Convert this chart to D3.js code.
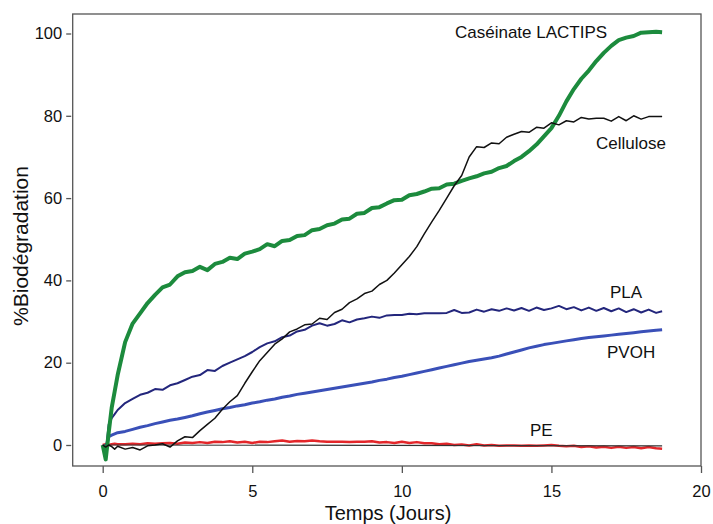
<!DOCTYPE html>
<html>
<head>
<meta charset="utf-8">
<script src="https://cdn.jsdelivr.net/npm/d3@7"></script>
<style>
    body { margin: 0; background: #fff; }
    text { font-family: "Liberation Sans", Arial, sans-serif; fill: #111; }
</style>
</head>
<body>
<script>
var WIDTH = 713,
    HEIGHT = 524;

// sampling days shared by every series
var days = [0, 0.1, 0.2, 0.3, 0.4, 0.5,
    0.75, 1, 1.25, 1.5, 1.75, 2, 2.25, 2.5, 2.75, 3, 3.25, 3.5, 3.75, 4,
    4.25, 4.5, 4.75, 5, 5.25, 5.5, 5.75, 6, 6.25, 6.5, 6.75, 7, 7.25, 7.5, 7.75, 8,
    8.25, 8.5, 8.75, 9, 9.25, 9.5, 9.75, 10, 10.25, 10.5, 10.75, 11, 11.25, 11.5, 11.75, 12,
    12.25, 12.5, 12.75, 13, 13.25, 13.5, 13.75, 14, 14.25, 14.5, 14.75, 15, 15.25, 15.5, 15.75, 16,
    16.25, 16.5, 16.75, 17, 17.25, 17.5, 17.75, 18, 18.25, 18.5, 18.7];

var caseinate = [0, -3.5, 3, 9, 13, 17,
    25, 29.5, 32, 34.5, 36.5, 38.3, 39, 41, 42, 42.3, 43.3, 42.5, 44, 44.5,
    45.5, 45.2, 46.5, 47, 47.6, 48.8, 48.3, 49.6, 49.8, 50.8, 51, 52.2, 52.5, 53.4, 53.8, 54.8,
    55, 56.2, 56.4, 57.6, 57.8, 58.7, 59.5, 59.6, 60.7, 61, 61.6, 62.3, 62.4, 63.3, 63.5, 64.2,
    64.8, 65.3, 66, 66.4, 67.3, 67.8, 69, 70, 71.4, 73, 75, 77, 80, 83.5, 86.5, 89,
    91, 93.3, 95.3, 97, 98.4, 99, 99.4, 100.2, 100.3, 100.4, 100.3];

var cellulose = [0, -0.5, 0, -0.4, -1, -0.3,
    -1, -0.6, -1.2, -0.2, 0, 0.3, -0.5, 1, 2, 1.8, 3.5, 5, 6.5, 8.7,
    10.5, 12, 15, 17.8, 20.5, 22.5, 24.5, 25.8, 27.5, 28.2, 29.2, 29.4, 30.8, 30.5, 32.2, 33,
    34.6, 35.5, 36.8, 37.4, 39, 40, 41.8, 43.8, 45.8, 48.2, 51.3, 54.2, 57, 60, 63, 65.5,
    70, 72.5, 72.3, 73.4, 73.2, 74.8, 75.5, 76.2, 76, 77.2, 77, 78.3, 77.8, 78.8, 78.5, 79.6,
    79.2, 79.4, 79.4, 78.7, 79.8, 78.8, 80, 79.2, 79.8, 79.8, 79.8];

var pla = [0, -2, 5, 6.5, 7.5, 8.5,
    10.2, 11.2, 12.2, 12.7, 13.6, 13.4, 14.5, 15, 15.8, 16.6, 17, 18.2, 18, 19.2,
    20, 20.8, 21.6, 22.6, 23.8, 24.7, 25.2, 26.2, 26.6, 27.6, 28, 29, 29.6, 29, 29.4, 30.3,
    29.8, 30.5, 30.8, 31.2, 30.9, 31.5, 31.6, 31.6, 31.9, 31.8, 32, 32, 32, 32.1, 32.8, 32.1,
    32.2, 32.9, 32.4, 33, 32.6, 33.2, 32.7, 33.3, 32.6, 33.4, 32.8, 33.2, 33.8, 33, 33.5, 32.7,
    33.4, 32.6, 33.3, 32.5, 33.2, 32.3, 33, 32.2, 32.9, 32.1, 32.5];

var pvoh = [0, -1, 2, 2.4, 2.7, 3,
    3.3, 3.8, 4.3, 4.7, 5.2, 5.6, 6, 6.3, 6.7, 7.1, 7.6, 8, 8.4, 8.8,
    9.1, 9.5, 9.8, 10.2, 10.5, 10.9, 11.2, 11.6, 11.9, 12.3, 12.6, 12.9, 13.2, 13.5, 13.8, 14.1,
    14.4, 14.7, 15, 15.3, 15.7, 16, 16.4, 16.7, 17.1, 17.5, 17.9, 18.3, 18.7, 19.1, 19.5, 19.9,
    20.3, 20.6, 20.9, 21.2, 21.6, 22.1, 22.6, 23.1, 23.6, 24, 24.4, 24.7, 25, 25.3, 25.6, 25.9,
    26.1, 26.3, 26.5, 26.7, 26.9, 27.1, 27.3, 27.5, 27.7, 27.9, 28];

var pe = [0, 0.2, 0, 0.2, 0.3, 0.2,
    0.2, 0.3, 0.2, 0.4, 0.3, 0.4, 0.5, 0.3, 0.6, 0.5, 0.7, 0.5, 0.8, 0.7,
    0.9, 0.6, 0.8, 0.5, 0.8, 0.7, 0.9, 1.1, 0.8, 1, 0.9, 1.1, 0.9, 0.8, 0.8, 0.8,
    0.7, 0.8, 0.8, 0.9, 0.6, 0.7, 0.5, 0.8, 0.5, 0.7, 0.4, 0.4, 0.2, 0.3, 0, 0.1,
    -0.1, 0.2, -0.1, 0, -0.2, -0.1, -0.1, -0.2, -0.1, -0.2, -0.1, 0, -0.2, -0.3, -0.2, -0.5,
    -0.3, -0.6, -0.4, -0.7, -0.4, -0.7, -0.5, -0.8, -0.5, -0.8, -0.9];

// thin zero reference line
var blankDays = [0, 18.7],
    blank = [0, -0.2];

var xTicks = [0, 5, 10, 15, 20],
    yTicks = [0, 20, 40, 60, 80, 100];

document.addEventListener('DOMContentLoaded', function() {
    var svg = d3.select('body').append('svg')
        .attr('width', WIDTH)
        .attr('height', HEIGHT);

    drawChart(svg);
});

function drawChart(svg) {
    var box = { left: 72.7, right: 701, top: 14, bottom: 466 };

    var x = d3.scaleLinear().domain([0, 20]).range([102.7, 701]);
    var y = d3.scaleLinear().domain([0, 100]).range([445, 33.5]);

    var line = d3.line()
        .x(d => x(d[0]))
        .y(d => y(d[1]));

    function pairs(xs, ys) {
        return xs.map((d, i) => [d, ys[i]]);
    }

    // frame
    svg.append('rect')
        .attr('x', box.left)
        .attr('y', box.top)
        .attr('width', box.right - box.left)
        .attr('height', box.bottom - box.top)
        .attr('fill', 'none')
        .attr('stroke', '#555')
        .attr('stroke-width', 1.3);

    // axes
    var yAxis = d3.axisLeft(y).tickValues(yTicks).tickSize(5).tickPadding(4);
    var gy = svg.append('g')
        .attr('transform', 'translate(' + (box.left - 1.5) + ',0)')
        .call(yAxis);

    var xAxis = d3.axisBottom(x).tickValues(xTicks).tickSize(7).tickPadding(12);
    var gx = svg.append('g')
        .attr('transform', 'translate(0,' + box.bottom + ')')
        .call(xAxis);

    [gx, gy].forEach(g => {
        g.select('.domain').remove();
        g.selectAll('line').attr('stroke', '#555').attr('stroke-width', 1.3);
        g.selectAll('text')
            .attr('font-size', 16.5)
            .attr('fill', '#111')
            .style('font-family', '"Liberation Sans", Arial, sans-serif');
    });
    gx.selectAll('text').attr('dy', '0.71em');

    // series, back to front
    var series = [
        { values: pairs(days, pe), color: '#e3262a', width: 2.5 },
        { values: pairs(blankDays, blank), color: '#333', width: 1.2 },
        { values: pairs(days, pvoh), color: '#3a50b8', width: 3 },
        { values: pairs(days, pla), color: '#23267c', width: 2 },
        { values: pairs(days, caseinate), color: '#1c8b3d', width: 4 },
        { values: pairs(days, cellulose), color: '#111', width: 1.5 }
    ];

    svg.selectAll('path.series')
        .data(series)
        .enter()
        .append('path')
        .attr('class', 'series')
        .attr('d', d => line(d.values))
        .attr('fill', 'none')
        .attr('stroke', d => d.color)
        .attr('stroke-width', d => d.width)
        .attr('stroke-linejoin', 'round');

    // curve labels
    var labels = [
        { text: 'Caséinate LACTIPS', x: 455, y: 38 },
        { text: 'Cellulose', x: 596, y: 149 },
        { text: 'PLA', x: 610, y: 298 },
        { text: 'PVOH', x: 607, y: 358 },
        { text: 'PE', x: 530, y: 436 }
    ];

    svg.selectAll('text.label')
        .data(labels)
        .enter()
        .append('text')
        .attr('class', 'label')
        .attr('x', d => d.x)
        .attr('y', d => d.y)
        .attr('font-size', 17)
        .text(d => d.text);

    // axis titles
    svg.append('text')
        .attr('x', 388)
        .attr('y', 520)
        .attr('text-anchor', 'middle')
        .attr('font-size', 20)
        .text('Temps (Jours)');

    svg.append('text')
        .attr('transform', 'translate(28,246) rotate(-90)')
        .attr('text-anchor', 'middle')
        .attr('font-size', 21)
        .text('%Biodégradation');
}
</script>
</body>
</html>
